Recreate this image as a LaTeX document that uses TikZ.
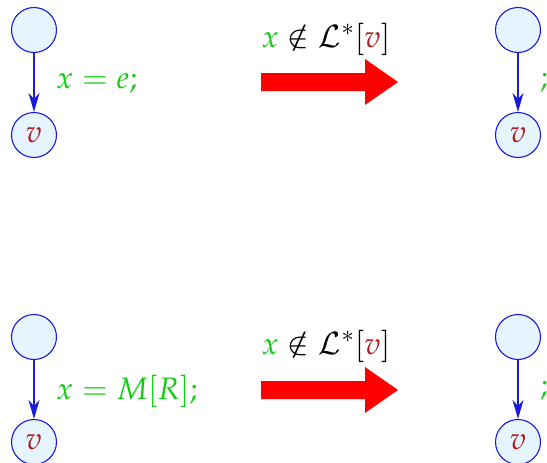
\documentclass[tikz,border=0pt]{standalone}
\usepackage{mathpazo}
\usepackage{anyfontsize}
\usetikzlibrary{arrows.meta}
\definecolor{nodefill}{HTML}{E6F4FF}
\definecolor{nodeblue}{HTML}{1A1ADD}
\definecolor{lblgreen}{HTML}{11CC11}
\definecolor{vred}{HTML}{B01C1C}
\tikzset{
  cfgnode/.style={circle, draw=nodeblue, fill=nodefill, line width=1.1pt, minimum size=45pt, inner sep=0pt, font=\fontsize{31}{36}\selectfont},
  cfgedge/.style={draw=nodeblue, line width=1.2pt, -{Stealth[length=19pt,width=11pt,inset=6pt]}},
  lbl/.style={font=\fontsize{31}{36}\selectfont, text=lblgreen, anchor=west, inner sep=0pt},
  cond/.style={font=\fontsize{31}{36}\selectfont, inner sep=0pt},
  bigarrow/.style={fill=red, draw=none}
}
\begin{document}
\begin{tikzpicture}[x=1pt,y=-1pt]
\useasboundingbox (0,0) rectangle (547,463);
% top row
\node[cfgnode] (a1) at (34,30) {};
\node[cfgnode] (b1) at (34,135) {$\color{vred}v$};
\draw[cfgedge] (a1) -- (b1);
\node[lbl] (l1) at (56,83) {$x = e;$};
\node[cond] (c1) at (326,39) {$\color{lblgreen}x \color{black}\notin \mathcal{L}^*[\color{vred}v\color{black}]$};
\coordinate (r1) at (261,82);
\fill[bigarrow] (r1) ++(0,-9) -- ++(104,0) -- ++(0,-14) -- ++(33,23) -- ++(-33,23) -- ++(0,-14) -- ++(-104,0) -- cycle;
\node[cfgnode] (a2) at (518,30) {};
\node[cfgnode] (b2) at (518,135) {$\color{vred}v$};
\draw[cfgedge] (a2) -- (b2);
\node[lbl] (l2) at (540,83) {$;$};
% bottom row
\node[cfgnode] (a3) at (34,337) {};
\node[cfgnode] (b3) at (34,442) {$\color{vred}v$};
\draw[cfgedge] (a3) -- (b3);
\node[lbl] (l3) at (56,391) {$x = M[R];$};
\node[cond] (c3) at (326,346) {$\color{lblgreen}x \color{black}\notin \mathcal{L}^*[\color{vred}v\color{black}]$};
\coordinate (r3) at (261,390);
\fill[bigarrow] (r3) ++(0,-9) -- ++(104,0) -- ++(0,-14) -- ++(33,23) -- ++(-33,23) -- ++(0,-14) -- ++(-104,0) -- cycle;
\node[cfgnode] (a4) at (518,337) {};
\node[cfgnode] (b4) at (518,442) {$\color{vred}v$};
\draw[cfgedge] (a4) -- (b4);
\node[lbl] (l4) at (540,391) {$;$};
\end{tikzpicture}
\end{document}
